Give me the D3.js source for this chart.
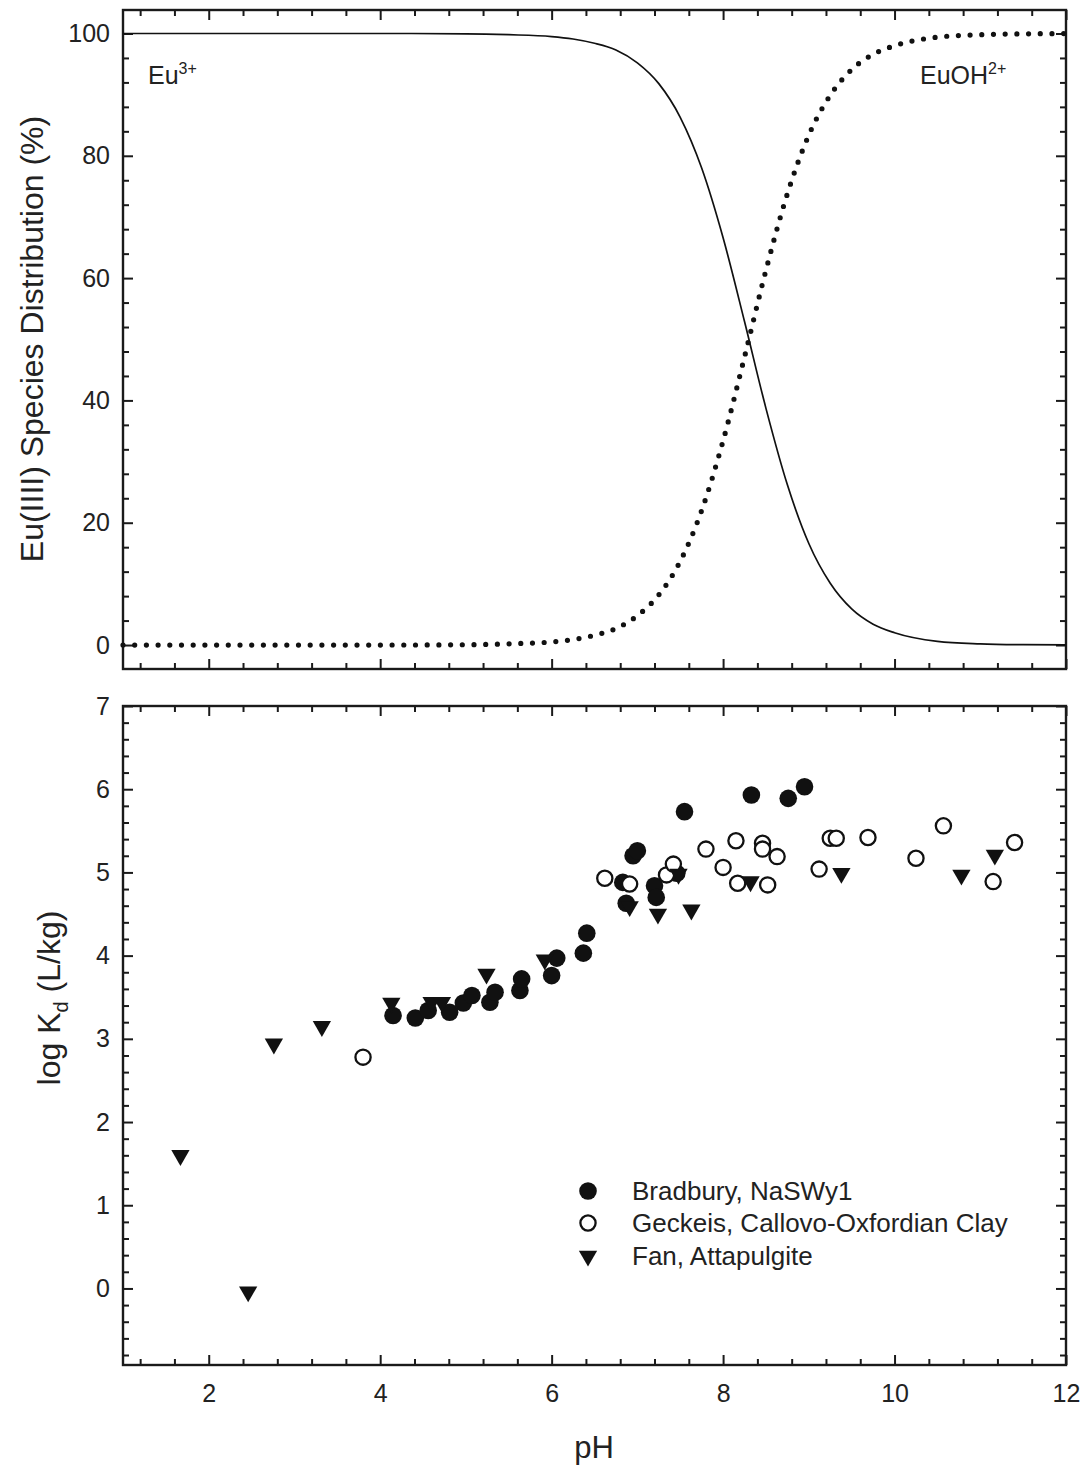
<!DOCTYPE html>
<html>
<head>
<meta charset="utf-8">
<script src="https://cdn.jsdelivr.net/npm/d3@7/dist/d3.min.js"></script>
<style>
  body { margin: 0; background: #fff; }
  svg { display: block; font-family: Arial, "Liberation Sans", sans-serif; }
  .domain { display: none; }
  .tick line { stroke: #1a1a1a; stroke-width: 2; }
  .tick text { font-size: 25px; fill: #222; }
</style>
</head>
<body>
<svg id="chart" width="1085" height="1466"></svg>
<script>
// speciation curve (pH, % of Eu)
var specPH    = [1, 2, 3, 4, 5, 5.5, 6, 6.25, 6.5, 6.75, 7, 7.25, 7.5, 7.75, 8, 8.25, 8.5, 8.75, 9, 9.25, 9.5, 9.75, 10, 10.5, 11, 11.5, 12];
var euFree    = [100, 100, 100, 100, 99.95, 99.8, 99.5, 99.1, 98.4, 97.3, 95.2, 91.8, 86.3, 78.0, 66.6, 52.9, 38.7, 26.2, 16.6, 10.1, 5.9, 3.4, 2.0, 0.6, 0.2, 0.06, 0.02];
var euOH      = [0, 0, 0, 0, 0.05, 0.2, 0.5, 0.9, 1.6, 2.7, 4.8, 8.2, 13.7, 22.0, 33.4, 47.1, 61.3, 73.8, 83.4, 89.9, 94.1, 96.6, 98.0, 99.4, 99.8, 99.94, 99.98];

// sorption data, [pH, log Kd]
var bradbury = [[4.15,3.28],[4.41,3.25],[4.56,3.34],[4.81,3.32],[4.97,3.43],[5.07,3.52],[5.28,3.44],[5.34,3.56],
  [5.63,3.58],[5.65,3.72],[6.0,3.76],[6.06,3.97],[6.37,4.03],[6.41,4.27],[6.87,4.63],[6.83,4.88],[6.95,5.2],
  [7.0,5.26],[7.2,4.84],[7.22,4.7],[7.46,4.99],[7.55,5.73],[8.33,5.93],[8.76,5.89],[8.95,6.03]];
var geckeis = [[3.8,2.78],[6.62,4.93],[6.91,4.86],[7.34,4.97],[7.42,5.10],[7.8,5.28],[8.0,5.06],[8.15,5.38],
  [8.17,4.87],[8.46,5.35],[8.46,5.28],[8.52,4.85],[8.63,5.19],[9.12,5.04],[9.25,5.41],[9.32,5.41],[9.69,5.42],
  [10.25,5.17],[10.57,5.56],[11.15,4.89],[11.4,5.36]];
var fan = [[1.67,1.60],[2.46,-0.04],[2.76,2.94],[3.32,3.15],[4.13,3.43],[4.6,3.44],[4.72,3.44],[5.24,3.78],
  [5.92,3.95],[6.91,4.59],[7.24,4.5],[7.48,4.98],[7.63,4.55],[8.32,4.89],[9.38,4.99],[10.78,4.97],[11.17,5.21]];

var legendLabels = ['Bradbury, NaSWy1', 'Geckeis, Callovo-Oxfordian Clay', 'Fan, Attapulgite'];
var xMajor = [2, 4, 6, 8, 10, 12];
var topMajor = [0, 20, 40, 60, 80, 100];
var botMajor = [0, 1, 2, 3, 4, 5, 6, 7];

var svg = d3.select('#chart');
var left = 123, right = 1066;

var x = d3.scaleLinear().domain([1, 12]).range([left, right]);
var yTop = d3.scaleLinear().domain([-3.92, 103.84]).range([669, 10]);
var yBot = d3.scaleLinear().domain([-0.92, 7]).range([1365, 706]);

function steps(a, b, s) {
  var out = [];
  for (var i = 0; a + i * s <= b + 1e-9; i++) out.push(+(a + i * s).toFixed(4));
  return out;
}
var xMinor = steps(1.2, 11.8, 0.4).filter(function(v) { return xMajor.indexOf(v) < 0; });

// frame with inward ticks on all four sides
function frame(y, yMaj, yMin, showX) {
  var r = y.range(), bottom = r[0], top = r[1];
  var g = svg.append('g');

  function add(axis, tx, ty) {
    g.append('g').attr('transform', 'translate(' + tx + ',' + ty + ')').call(axis);
  }
  add(d3.axisBottom(x).tickValues(xMinor).tickSize(-6).tickFormat(''), 0, bottom);
  add(d3.axisBottom(x).tickValues(xMajor).tickSize(-10).tickPadding(19)
        .tickFormat(showX ? d3.format('d') : ''), 0, bottom);
  add(d3.axisTop(x).tickValues(xMinor).tickSize(-6).tickFormat(''), 0, top);
  add(d3.axisTop(x).tickValues(xMajor).tickSize(-10).tickFormat(''), 0, top);
  add(d3.axisLeft(y).tickValues(yMin).tickSize(-6).tickFormat(''), left, 0);
  add(d3.axisLeft(y).tickValues(yMaj).tickSize(-10).tickPadding(13).tickFormat(d3.format('d')), left, 0);
  add(d3.axisRight(y).tickValues(yMin).tickSize(-6).tickFormat(''), right, 0);
  add(d3.axisRight(y).tickValues(yMaj).tickSize(-10).tickFormat(''), right, 0);

  g.append('rect')
    .attr('x', left).attr('y', top)
    .attr('width', right - left).attr('height', bottom - top)
    .attr('fill', 'none').attr('stroke', '#1a1a1a').attr('stroke-width', 2.4);
}

// ---- top panel
var topMinor = steps(0, 100, 4).filter(function(v) { return topMajor.indexOf(v) < 0; });
frame(yTop, topMajor, topMinor, false);

svg.append('clipPath').attr('id', 'clipTop')
  .append('rect').attr('x', left).attr('y', 10).attr('width', right - left).attr('height', 659);

var spec = specPH.map(function(p, i) { return {ph: p, free: euFree[i], oh: euOH[i]}; });

svg.append('path')
  .datum(spec)
  .attr('clip-path', 'url(#clipTop)')
  .attr('fill', 'none').attr('stroke', '#111').attr('stroke-width', 1.7)
  .attr('d', d3.line().curve(d3.curveMonotoneX)
    .x(function(d) { return x(d.ph); }).y(function(d) { return yTop(d.free); }));

svg.append('path')
  .datum(spec)
  .attr('fill', 'none').attr('stroke', '#111').attr('stroke-width', 5.2)
  .attr('stroke-linecap', 'round').attr('stroke-dasharray', '0 11.7')
  .attr('d', d3.line().curve(d3.curveMonotoneX)
    .x(function(d) { return x(d.ph); }).y(function(d) { return yTop(d.oh); }));

var t1 = svg.append('text').attr('x', 148).attr('y', 84).attr('font-size', 25).attr('fill', '#222');
t1.append('tspan').text('Eu');
t1.append('tspan').attr('dy', -10).attr('font-size', 16).text('3+');

var t2 = svg.append('text').attr('x', 920).attr('y', 84).attr('font-size', 25).attr('fill', '#222');
t2.append('tspan').text('EuOH');
t2.append('tspan').attr('dy', -10).attr('font-size', 16).text('2+');

svg.append('text')
  .attr('transform', 'translate(43,339) rotate(-90)')
  .attr('text-anchor', 'middle').attr('font-size', 32).attr('fill', '#222')
  .text('Eu(IIII) Species Distribution (%)');

// ---- bottom panel
var botMinor = steps(-0.8, 6.8, 0.2).filter(function(v) { return botMajor.indexOf(v) < 0; });
frame(yBot, botMajor, botMinor, true);

var yl = svg.append('text')
  .attr('transform', 'translate(60,998) rotate(-90)')
  .attr('text-anchor', 'middle').attr('font-size', 32).attr('fill', '#222');
yl.append('tspan').text('log K');
yl.append('tspan').attr('dy', 8).attr('font-size', 20).text('d');
yl.append('tspan').attr('dy', -8).text(' (L/kg)');

svg.append('text')
  .attr('x', 594).attr('y', 1458)
  .attr('text-anchor', 'middle').attr('font-size', 31).attr('fill', '#222')
  .text('pH');

var tri = d3.symbol().type(d3.symbolTriangle).size(145);

function circles(data, fill) {
  svg.append('g').selectAll('circle')
    .data(data).enter()
    .append('circle')
      .attr('cx', function(d) { return x(d[0]); })
      .attr('cy', function(d) { return yBot(d[1]); })
      .attr('r', fill ? 8.8 : 7.6)
      .attr('fill', fill ? '#111' : '#fff')
      .attr('stroke', '#111')
      .attr('stroke-width', fill ? 0 : 2.3);
}
circles(bradbury, true);
circles(geckeis, false);

svg.append('g').selectAll('path')
  .data(fan).enter()
  .append('path')
    .attr('d', tri)
    .attr('fill', '#111')
    .attr('transform', function(d) {
      return 'translate(' + x(d[0]) + ',' + yBot(d[1]) + ') rotate(180)';
    });

// legend
var legY = [1191, 1223, 1256];
var lg = svg.append('g');
lg.append('circle').attr('cx', 588).attr('cy', legY[0]).attr('r', 8.8).attr('fill', '#111');
lg.append('circle').attr('cx', 588).attr('cy', legY[1]).attr('r', 7.6)
  .attr('fill', '#fff').attr('stroke', '#111').attr('stroke-width', 2.3);
lg.append('path').attr('d', tri).attr('fill', '#111')
  .attr('transform', 'translate(588,' + legY[2] + ') rotate(180)');
lg.selectAll('text.leg')
  .data(legendLabels).enter()
  .append('text')
    .attr('class', 'leg')
    .attr('x', 632)
    .attr('y', function(d, i) { return legY[i] + 9; })
    .attr('font-size', 26).attr('fill', '#222')
    .text(function(d) { return d; });
</script>
</body>
</html>
